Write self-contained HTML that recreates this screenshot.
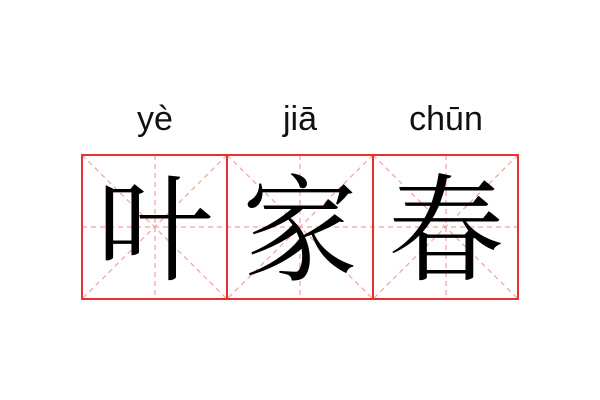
<!DOCTYPE html>
<html><head><meta charset="utf-8"><style>
html,body{margin:0;padding:0;background:#fff;width:600px;height:400px;overflow:hidden}
svg{display:block}
</style></head><body>
<svg width="600" height="400" viewBox="0 0 600 400" xmlns="http://www.w3.org/2000/svg">
<g font-family="Liberation Sans, DejaVu Sans, sans-serif" font-size="34" fill="#111" text-anchor="middle">
<text x="155" y="130">yè</text>
<text x="300" y="130">jiā</text>
<text x="446" y="130">chūn</text>
</g>
<g stroke="#f4a0a0" stroke-width="1.2" stroke-dasharray="5,4" fill="none">
<line x1="82" y1="227" x2="518" y2="227"/>
<line x1="155" y1="155" x2="155" y2="299"/>
<line x1="300" y1="155" x2="300" y2="299"/>
<line x1="446" y1="155" x2="446" y2="299"/>
<line x1="82" y1="155" x2="227" y2="299"/>
<line x1="227" y1="155" x2="82" y2="299"/>
<line x1="227" y1="155" x2="373" y2="299"/>
<line x1="373" y1="155" x2="227" y2="299"/>
<line x1="373" y1="155" x2="518" y2="299"/>
<line x1="518" y1="155" x2="373" y2="299"/>
</g>
<g stroke="#e83030" stroke-width="2" fill="none">
<rect x="82" y="155" width="436" height="144"/>
<line x1="227" y1="155" x2="227" y2="299"/>
<line x1="373" y1="155" x2="373" y2="299"/>
</g>
<g font-family="Liberation Serif, Noto Serif CJK SC, serif" font-size="116" fill="#000" text-anchor="middle">
<text x="155" y="271">叶</text>
<text x="300" y="271">家</text>
<text x="446" y="271">春</text>
</g>
</svg>
</body></html>
